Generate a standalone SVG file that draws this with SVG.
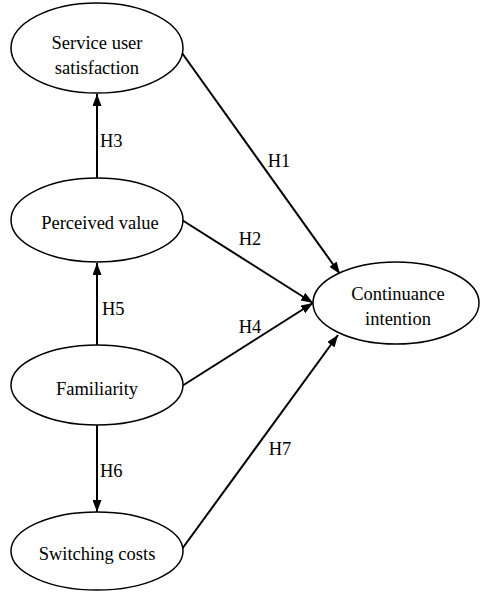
<svg xmlns="http://www.w3.org/2000/svg" width="481" height="593" viewBox="0 0 481 593" font-family="'Liberation Serif', 'DejaVu Serif', serif">
<style>
.node ellipse{fill:#fff;stroke:#000;stroke-width:1.5}
text{font-family:'Liberation Serif','DejaVu Serif',serif;font-size:18.5px;fill:#000}
.c{text-anchor:middle}
.edges line{stroke:#000;stroke-width:2;fill:none}
</style>
<defs>
<marker id="arr" markerUnits="userSpaceOnUse" markerWidth="13" markerHeight="9" refX="12" refY="4.5" orient="auto">
<path d="M0,0 L12,4.5 L0,9 z" fill="#000"/>
</marker>
</defs>
<g class="edges">
<line x1="97" y1="178" x2="97" y2="94" marker-end="url(#arr)"/>
<line x1="97" y1="345" x2="97" y2="263" marker-end="url(#arr)"/>
<line x1="97" y1="425" x2="97" y2="512" marker-end="url(#arr)"/>
<line x1="182" y1="53" x2="340" y2="274" marker-end="url(#arr)"/>
<line x1="182" y1="220" x2="313" y2="303" marker-end="url(#arr)"/>
<line x1="182" y1="386" x2="313" y2="303" marker-end="url(#arr)"/>
<line x1="182" y1="549" x2="338" y2="335" marker-end="url(#arr)"/>
<text x="100" y="147">H3</text>
<text x="102" y="315">H5</text>
<text x="100" y="477">H6</text>
<text class="c" x="279" y="167">H1</text>
<text class="c" x="250" y="245">H2</text>
<text class="c" x="250" y="333">H4</text>
<text class="c" x="280" y="455">H7</text>
</g>
<g id="satisfaction" class="node">
<ellipse cx="97" cy="48" rx="86" ry="45"/>
<text class="c" x="97" y="49">Service user</text>
<text class="c" x="97" y="74">satisfaction</text>
</g>
<g id="value" class="node">
<ellipse cx="97" cy="220" rx="86" ry="42"/>
<text class="c" x="100" y="229">Perceived value</text>
</g>
<g id="familiarity" class="node">
<ellipse cx="97" cy="385" rx="86" ry="40"/>
<text class="c" x="97" y="395">Familiarity</text>
</g>
<g id="switching" class="node">
<ellipse cx="97" cy="551" rx="86" ry="39"/>
<text class="c" x="97" y="560">Switching costs</text>
</g>
<g id="continuance" class="node">
<ellipse cx="396" cy="303" rx="83" ry="41"/>
<text class="c" x="398" y="300">Continuance</text>
<text class="c" x="398" y="325">intention</text>
</g>
</svg>
